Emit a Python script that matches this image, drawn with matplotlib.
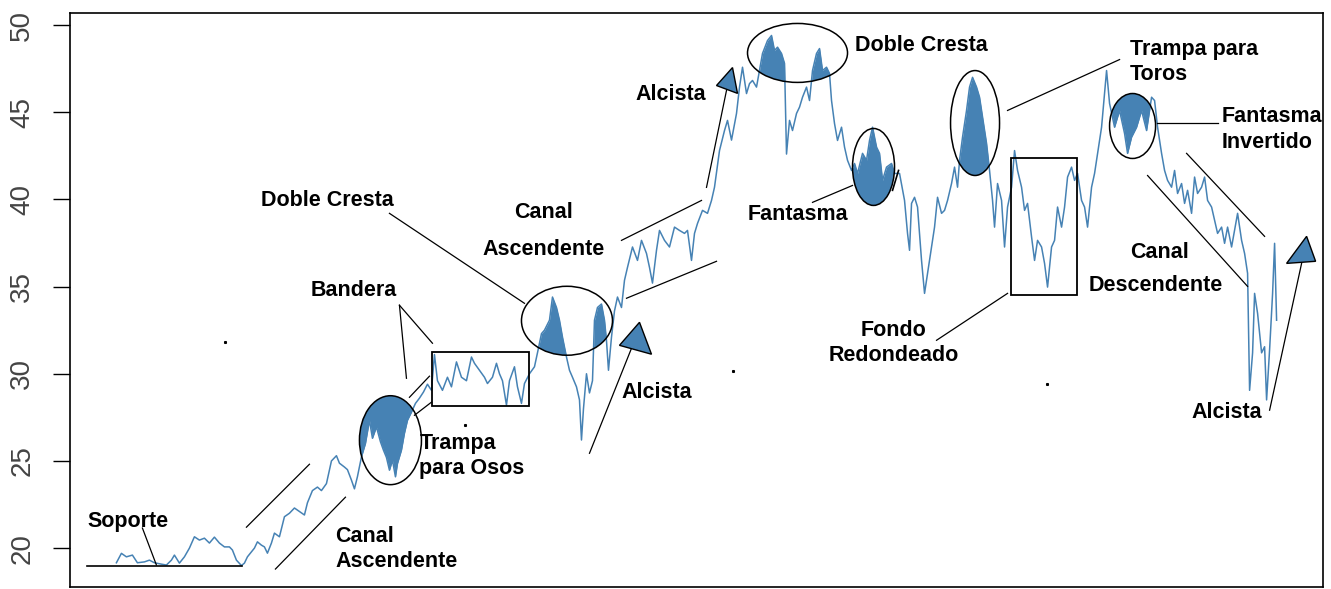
import matplotlib
matplotlib.use("Agg")
import matplotlib.pyplot as plt
from matplotlib.patches import Ellipse, Polygon, Rectangle

# ---------------- data ----------------
day = [2, 7, 12, 18, 23, 30, 35, 40, 47, 52, 57, 60, 65, 70, 75, 80, 85, 90, 95, 100,
       105, 110, 115, 118, 122, 127, 130, 133, 140, 143, 147, 150, 153, 157, 160, 165,
       170, 175, 180, 185, 190, 193, 198, 203, 207, 212, 217, 222, 225, 230, 233, 237,
       240, 243, 247, 251, 255, 258, 262, 266, 269, 272, 275, 278, 281, 283, 287, 290,
       293, 297, 301, 305, 309, 313, 317, 320, 323, 328, 333, 337, 342, 347, 352, 357,
       360, 365, 370, 373, 378, 382, 385, 388, 392, 395, 400, 403, 407, 410, 415, 420,
       423, 427, 430, 435, 438, 442, 445, 448, 452, 455, 458, 462, 465, 467, 469, 472,
       475, 478, 480, 483, 487, 490, 492, 494, 497, 500, 503, 507, 510, 513, 518, 523,
       527, 532, 535, 538, 542, 545, 550, 555, 560, 565, 570, 573, 577, 580, 583, 588,
       593, 597, 600, 605, 610, 613, 617, 622, 625, 628, 632, 635, 638, 642, 645, 648,
       653, 657, 660, 663, 667, 670, 672, 675, 678, 682, 685, 688, 692, 695, 698, 702,
       705, 708, 712, 715, 717, 720, 723, 727, 730, 733, 737, 740, 743, 748, 752, 755,
       758, 762, 765, 768, 772, 777, 780, 785, 790, 793, 795, 797, 800, 803, 807, 810,
       813, 817, 820, 823, 827, 830, 833, 837, 840, 843, 845, 848, 852, 855, 858, 862,
       865, 868, 872, 875, 878, 880, 883, 887, 890, 893, 897, 900, 903, 907, 910, 913,
       917, 920, 923, 927, 930, 933, 937, 940, 943, 947, 950, 953, 957, 960, 963, 967,
       970, 973, 977, 980, 983, 987, 990, 992, 995, 1000, 1005, 1010, 1013, 1017, 1022,
       1027, 1032, 1037, 1040, 1043, 1047, 1050, 1053, 1057, 1060, 1063, 1067, 1070,
       1073, 1077, 1080, 1083, 1087, 1090, 1093, 1097, 1100, 1103, 1107, 1110, 1113,
       1117, 1120, 1123, 1127, 1130, 1133, 1135, 1138, 1140, 1143, 1147, 1150, 1152,
       1155, 1158, 1160, 1162]

price = [19.16, 19.70, 19.50, 19.60, 19.16, 19.21, 19.31, 19.16, 19.08, 19.03, 19.31,
         19.60, 19.14, 19.50, 20.00, 20.65, 20.46, 20.57, 20.29, 20.63, 20.29, 20.07,
         20.07, 19.89, 19.31, 19.00, 19.14, 19.50, 20.00, 20.36, 20.17, 20.07, 19.71,
         20.29, 20.86, 20.65, 21.80, 22.00, 22.30, 22.10, 21.90, 22.60, 23.30, 23.50,
         23.30, 23.70, 25.00, 25.30, 24.87, 24.65, 24.50, 23.90, 23.40, 24.10, 25.23,
         26.00, 27.33, 26.30, 26.95, 26.10, 25.62, 25.20, 24.47, 25.04, 24.09, 24.85,
         25.62, 26.59, 27.33, 27.80, 28.30, 28.60, 28.95, 29.40, 29.05, 31.10, 29.60,
         29.05, 29.80, 29.25, 30.68, 29.80, 29.60, 30.96, 30.60, 30.20, 29.80, 29.44,
         29.80, 30.60, 30.00, 29.60, 28.20, 29.60, 30.40, 29.25, 28.30, 29.44, 30.00,
         30.40, 31.20, 32.30, 32.50, 33.07, 34.40, 33.80, 33.07, 32.10, 30.96, 30.20,
         29.80, 29.25, 28.50, 26.20, 28.00, 30.00, 28.90, 29.60, 33.07, 33.80, 34.00,
         33.07, 31.90, 30.20, 32.10, 33.60, 34.40, 33.80, 35.36, 36.10, 37.27, 36.50,
         37.65, 36.90, 36.10, 35.20, 37.08, 38.22, 37.65, 37.27, 38.41, 38.22, 38.05,
         38.22, 36.50, 38.05, 38.62, 39.37, 39.20, 39.94, 40.70, 42.80, 43.95, 44.53,
         43.40, 44.93, 46.44, 47.58, 46.07, 46.64, 46.82, 46.44, 47.39, 48.37, 49.11,
         49.40, 48.54, 48.73, 48.37, 47.80, 42.60, 44.53, 43.95, 44.93, 45.29, 45.86,
         46.44, 45.67, 47.39, 48.37, 48.65, 47.39, 47.58, 47.22, 45.67, 44.35, 43.38,
         44.14, 43.00, 42.24, 41.66, 42.06, 41.49, 42.64, 42.24, 43.38, 44.14, 43.00,
         42.64, 41.09, 41.85, 42.06, 41.49, 41.49, 39.94, 38.05, 37.08, 39.77, 40.12,
         39.56, 36.50, 34.61, 35.76, 37.27, 38.41, 40.12, 39.20, 39.37, 39.94, 40.91,
         41.85, 40.70, 42.24, 43.57, 45.10, 46.44, 47.00, 46.44, 45.86, 44.72, 43.21,
         41.66, 39.94, 38.41, 40.91, 39.94, 37.27, 39.56, 40.70, 42.80, 41.66, 40.70,
         39.37, 39.77, 37.85, 36.50, 37.65, 37.27, 36.33, 34.97, 37.27, 37.65, 39.56,
         38.41, 39.56, 41.28, 41.85, 41.09, 41.49, 39.94, 39.56, 38.41, 40.70, 41.49,
         42.64, 44.14, 46.07, 47.39, 45.50, 44.14, 45.10, 43.78, 42.64, 43.57, 44.14,
         45.10, 43.95, 45.86, 45.67, 44.14, 42.64, 41.66, 41.09, 40.70, 41.66, 40.34,
         40.91, 39.77, 40.52, 39.20, 41.28, 40.34, 40.70, 41.28, 39.94, 39.56, 38.80,
         38.05, 38.41, 37.48, 38.41, 37.27, 38.22, 39.20, 37.65, 36.90, 35.76, 29.05,
         31.20, 34.61, 33.46, 31.20, 31.55, 28.50, 31.37, 34.61, 37.48, 33.07]

yticks = [20, 25, 30, 35, 40, 45, 50]

BLUE = "#4682B4"
TXT = dict(fontsize=15.5, fontweight="bold", family=["Liberation Sans", "DejaVu Sans"],
           color="black")

# ---------------- figure ----------------
fig = plt.figure(figsize=(13.31, 5.89), dpi=100)
ax = fig.add_axes([70 / 1331, 2 / 589, (1323 - 70) / 1331, (587 - 13) / 589])

ax.plot(day, price, color=BLUE, lw=1.1, zorder=3)

span = max(day) - min(day)
ax.set_xlim(min(day) - 0.04 * span, max(day) + 0.04 * span)
ax.set_ylim(17.77, 50.69)
ylo, yhi = ax.get_ylim()

ax.set_xticks([])
ax.set_yticks(yticks)
ax.set_yticklabels([str(t) for t in yticks], rotation=90, va="center",
                   family=["Liberation Sans", "DejaVu Sans"])
ax.tick_params(axis="y", length=12, width=1.0, labelsize=20, pad=13,
               labelcolor="#444444")
for s in ax.spines.values():
    s.set_linewidth(1.2)

def ell(cx, cy, w, h, mode):
    e = Ellipse((cx, cy), w, h, fill=False, ec="black", lw=1.1, zorder=4)
    ax.add_patch(e)
    if mode == "below":
        f = ax.fill_between(day, ylo, price, color=BLUE, lw=0, zorder=2)
    else:
        f = ax.fill_between(day, price, yhi, color=BLUE, lw=0, zorder=2)
    f.set_clip_path(e)

def seg(x0, y0, x1, y1, lw=0.9):
    ax.plot([x0, x1], [y0, y1], color="black", lw=lw, zorder=4)

def tri(pts):
    ax.add_patch(Polygon(pts, closed=True, fc=BLUE, ec="black", lw=1.0, zorder=5))

def box(x0, y0, x1, y1):
    ax.add_patch(Rectangle((x0, y0), x1 - x0, y1 - y0, fill=False, ec="black",
                           lw=1.3, zorder=4))

# Soporte
seg(-27, 18.97, 128, 18.97, lw=1.2)
seg(28, 21.15, 42, 19.03)
ax.text(14, 21.55, "Soporte", ha="center", va="center", **TXT)

# Canal Ascendente (lower)
seg(132, 21.20, 195, 24.81)
seg(161, 18.80, 231, 22.92)
ax.text(221, 20.69, "Canal", ha="left", va="center", **TXT)
ax.text(221, 19.26, "Ascendente", ha="left", va="center", **TXT)

# Trampa para Osos
ell(276, 26.19, 62, 5.10, "above")
ax.text(305, 26.02, "Trampa", ha="left", va="center", **TXT)
ax.text(305, 24.59, "para Osos", ha="left", va="center", **TXT)

# Bandera
ax.text(239, 34.79, "Bandera", ha="center", va="center", **TXT)
seg(285, 33.93, 292, 29.74)
seg(285, 33.93, 318, 31.75)
box(318, 28.14, 415, 31.23)
seg(295, 28.65, 315, 29.86)
seg(300, 27.62, 317, 28.37)

# Doble Cresta (lower)
ax.text(213, 39.94, "Doble Cresta", ha="center", va="center", **TXT)
seg(275, 39.20, 410, 34.04)
ell(452.5, 33.04, 91, 3.954, "below")

# Canal Ascendente (upper)
ax.text(429, 39.26, "Canal", ha="center", va="center", **TXT)
ax.text(429, 37.14, "Ascendente", ha="center", va="center", **TXT)
seg(507, 37.65, 587, 39.94)
seg(512, 34.33, 602, 36.45)

# Alcista (lower)
tri([(525, 32.95), (505, 31.63), (537, 31.12)])
seg(475, 25.44, 517, 31.46)
ax.text(507, 28.94, "Alcista", ha="left", va="center", **TXT)

# Alcista (upper)
tri([(618, 47.56), (602, 46.53), (623, 46.08)])
seg(592, 40.69, 612, 46.25)
ax.text(592, 46.02, "Alcista", ha="right", va="center", **TXT)

# Doble Cresta (upper)
ell(683, 48.40, 100, 3.381, "below")
ax.text(740, 48.83, "Doble Cresta", ha="left", va="center", **TXT)

# Fantasma
ell(759, 41.86, 42, 4.413, "below")
ax.text(683, 39.14, "Fantasma", ha="center", va="center", **TXT)
seg(698, 39.83, 738, 40.80)
seg(778, 40.52, 784, 41.66, lw=1.2)

# Trampa para Toros
ell(860.5, 44.38, 49, 6.017, "below")
seg(893, 45.10, 1005, 48.02)
ax.text(1015, 48.60, "Trampa para", ha="left", va="center", **TXT)
ax.text(1015, 47.16, "Toros", ha="left", va="center", **TXT)

# Fondo Redondeado
box(896, 34.50, 962, 42.35)
seg(822, 31.92, 893, 34.61)
ax.text(779, 32.49, "Fondo", ha="center", va="center", **TXT)
ax.text(779, 31.06, "Redondeado", ha="center", va="center", **TXT)

# Fantasma Invertido
ell(1018, 44.21, 46, 3.725, "above")
seg(1042, 44.36, 1103, 44.36)
ax.text(1107, 44.76, "Fantasma", ha="left", va="center", **TXT)
ax.text(1107, 43.27, "Invertido", ha="left", va="center", **TXT)

# Canal Descendente
seg(1072, 42.64, 1150, 37.88)
seg(1033, 41.37, 1133, 35.01)
ax.text(1045, 36.96, "Canal", ha="center", va="center", **TXT)
ax.text(1041, 35.07, "Descendente", ha="center", va="center", **TXT)

# Alcista (right)
tri([(1192, 37.88), (1172, 36.33), (1201, 36.45)])
seg(1155, 27.91, 1187, 36.33)
ax.text(1112, 27.79, "Alcista", ha="center", va="center", **TXT)

# stray dots
for dx, dy in [(111, 31.80), (618, 30.14), (932, 29.40), (351, 27.05)]:
    ax.plot([dx], [dy], marker="s", ms=1.2, color="black", zorder=4)

fig.savefig("out.png", dpi=100)
